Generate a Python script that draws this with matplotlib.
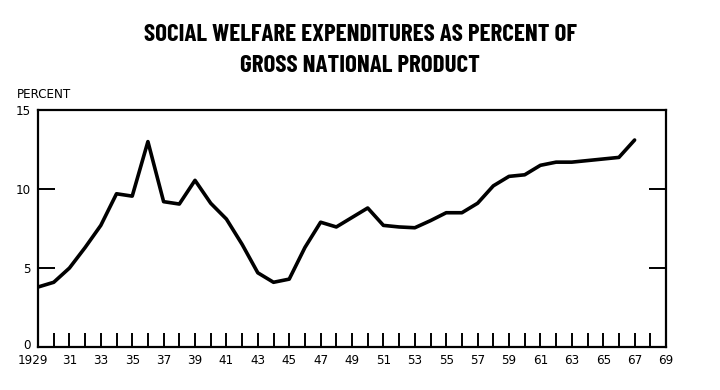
import matplotlib
matplotlib.use("Agg")
import matplotlib.pyplot as plt
from matplotlib.transforms import ScaledTranslation

years = list(range(1929, 1968))
percent = [3.8, 4.1, 5.0, 6.3, 7.7, 9.7, 9.55, 13.0, 9.2, 9.05,
           10.55, 9.1, 8.1, 6.5, 4.7, 4.1, 4.3, 6.3, 7.9, 7.6,
           8.2, 8.8, 7.7, 7.6, 7.55, 8.0, 8.5, 8.5, 9.1, 10.2,
           10.8, 10.9, 11.5, 11.7, 11.7, 11.8, 11.9, 12.0, 13.1]
xtick_years = list(range(1929, 1970))
xtick_labels = ["1929" if y == 1929 else (f"{y % 100:02d}" if (y - 1929) % 2 == 0 else "")
                for y in xtick_years]
ytick_vals = [0, 5, 10, 15]
ytick_labels = ["0", "5", "10", "15"]
title_lines = ["SOCIAL WELFARE EXPENDITURES AS PERCENT OF", "GROSS NATIONAL PRODUCT"]
ylabel = "PERCENT"

title_font = ["Barlow Condensed", "Roboto Condensed", "DejaVu Sans"]
label_font = ["DejaVu Sans"]

fig = plt.figure(figsize=(7.2, 3.9), dpi=100)
ax = fig.add_axes([0.0528, 0.110, 0.8722, 0.608])
ax.plot(years, percent, color="black", lw=2.6, solid_joinstyle="round", solid_capstyle="round")
ax.set_xlim(1929, 1969)
ax.set_ylim(0, 15)

ax.set_xticks(xtick_years)
ax.set_xticklabels(xtick_labels, fontsize=9.5, family=label_font, fontstretch="condensed")
ax.tick_params(axis="x", direction="in", length=10, width=1.4, pad=5)
ax.set_yticks(ytick_vals)
ax.set_yticklabels(ytick_labels, fontsize=9.5, family=label_font, fontstretch="condensed")
ax.tick_params(axis="y", direction="in", length=12, width=1.4, pad=5, right=True)
lab0 = ax.get_yticklabels()[0]
lab0.set_transform(lab0.get_transform() + ScaledTranslation(0, 3 / 100, fig.dpi_scale_trans))
xl0 = ax.get_xticklabels()[0]
xl0.set_transform(xl0.get_transform() + ScaledTranslation(-5 / 100, 0, fig.dpi_scale_trans))
for s in ax.spines.values():
    s.set_linewidth(1.6)

fig.text(0.5, 0.909, title_lines[0], ha="center", va="center",
         fontsize=18, fontweight="bold", family=title_font)
fig.text(0.5, 0.832, title_lines[1], ha="center", va="center",
         fontsize=18, fontweight="bold", family=title_font)
fig.text(0.0236, 0.758, ylabel, ha="left", va="center", fontsize=9.5,
         family=label_font, fontstretch="condensed")

fig.savefig("out.png", dpi=100)
